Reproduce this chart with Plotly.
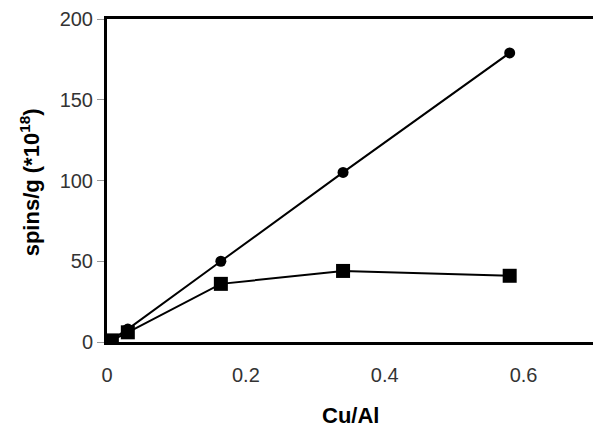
import plotly.graph_objects as go

# Cu/Al ratio vs spins/g (*10^18)
cu_al_circ = [0.005, 0.03, 0.164, 0.34, 0.58]
spins_circ = [1, 8, 50, 105, 179]

cu_al_sq = [0.007, 0.03, 0.164, 0.34, 0.58]
spins_sq = [1, 6, 36, 44, 41]

x_ticks = [0, 0.2, 0.4, 0.6]
y_ticks = [0, 50, 100, 150, 200]

fig = go.Figure()
fig.add_trace(go.Scatter(
    x=cu_al_circ, y=spins_circ, mode="lines+markers",
    line=dict(color="black", width=2),
    marker=dict(symbol="circle", size=11, color="black"),
))
fig.add_trace(go.Scatter(
    x=cu_al_sq, y=spins_sq, mode="lines+markers",
    line=dict(color="black", width=2),
    marker=dict(symbol="square", size=14, color="black"),
))

# page body adds an 8px offset, so the figure is sized to fit inside it
fig.update_layout(
    width=593, height=423,
    paper_bgcolor="white", plot_bgcolor="white",
    showlegend=False,
    margin=dict(l=99, r=8, t=11, b=89),
    font=dict(family="Liberation Sans, Arial", color="#333333", size=20),
    xaxis=dict(
        range=[0, 0.7], tickvals=x_ticks, ticktext=["0", "0.2", "0.4", "0.6"],
        showline=True, linecolor="black", linewidth=3, mirror=True,
        ticks="outside", ticklen=13, tickcolor="rgba(0,0,0,0)",
        showgrid=False, zeroline=False, automargin=False,
    ),
    yaxis=dict(
        range=[0, 200], tickvals=y_ticks,
        showline=True, linecolor="black", linewidth=3, mirror=True,
        ticks="outside", ticklen=7, tickcolor="#999999",
        showgrid=False, zeroline=False, automargin=False,
    ),
    annotations=[
        dict(text="<b>Cu/Al</b>", xref="paper", yref="paper", x=0.5, y=-0.229,
             showarrow=False, font=dict(size=22, color="black"),
             xanchor="center", yanchor="middle"),
        dict(text="<b>spins/g (*10<sup>18</sup>)</b>", xref="paper", yref="paper",
             x=-0.158, y=0.495, textangle=-90, showarrow=False,
             font=dict(size=22, color="black"), xanchor="center", yanchor="middle"),
    ],
)

fig.write_html("out.html")
